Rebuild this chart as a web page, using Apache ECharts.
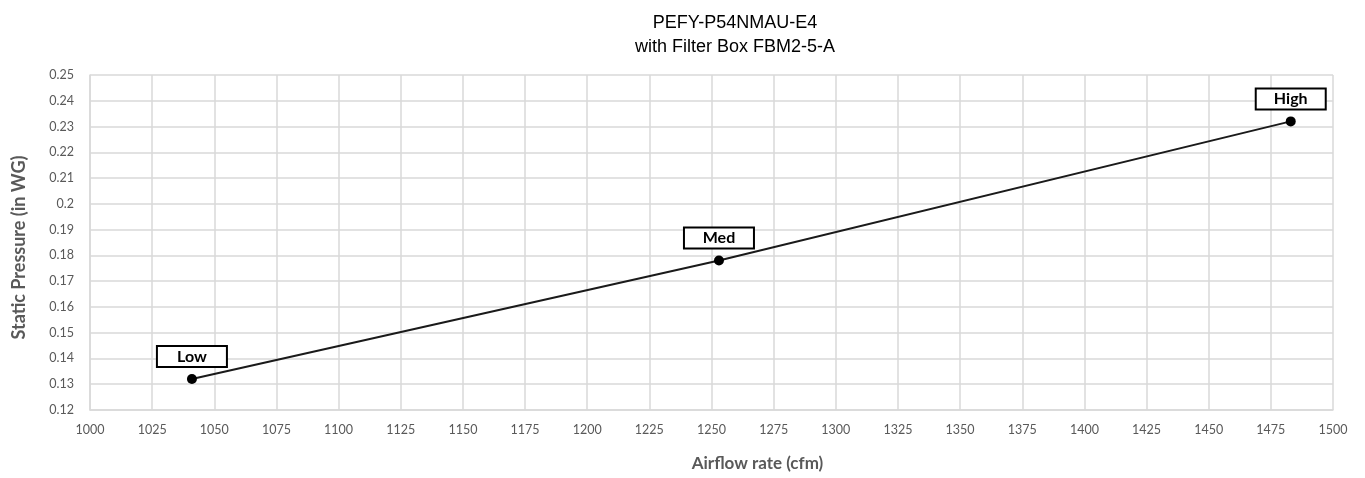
<!DOCTYPE html>
<html>
<head>
<meta charset="utf-8">
<script src="https://cdn.jsdelivr.net/npm/echarts@6/dist/echarts.min.js"></script>
<style>html,body{margin:0;padding:0;background:#fff}#c{width:1365px;height:478px}</style>
</head>
<body>
<div id="c"></div>
<script>
const titleLines = ['PEFY-P54NMAU-E4', 'with Filter Box FBM2-5-A'];
const airflow = [1041, 1253, 1483];
const pressure = [0.132, 0.178, 0.232];
const speedLabels = ['Low', 'Med', 'High'];
const xName = 'Airflow rate (cfm)';
const yName = 'Static Pressure (in WG)';

const chart = echarts.init(document.getElementById('c'));
const gridColor = '#d9d9d9';
const labelFont = 'Lato, "Open Sans", sans-serif';
chart.setOption({
  animation: false,
  title: {
    text: titleLines.join('\n'),
    left: 730, top: 6, textAlign: 'center',
    textStyle: { fontFamily: '"Liberation Sans", Arial, sans-serif', fontSize: 18, fontWeight: 'normal', color: '#000', lineHeight: 24 }
  },
  grid: { left: 90, right: 32, top: 75, bottom: 68 },
  xAxis: {
    type: 'value', min: 1000, max: 1500, interval: 25,
    name: xName, nameLocation: 'middle', nameGap: 45,
    nameTextStyle: { fontFamily: labelFont, fontSize: 17, fontWeight: 'bold', color: '#595959', padding: [0, 0, 0, 92] },
    axisLine: { show: true, lineStyle: { color: gridColor, width: 1.5 } },
    axisTick: { show: false },
    axisLabel: { fontFamily: labelFont, fontSize: 12.5, color: '#595959', margin: 13, formatter: v => String(v) },
    splitLine: { show: true, lineStyle: { color: gridColor, width: 1.5 } }
  },
  yAxis: {
    type: 'value', min: 0.12, max: 0.25, interval: 0.01,
    name: yName, nameLocation: 'middle', nameGap: 62, nameRotate: 90,
    nameTextStyle: { fontFamily: labelFont, fontSize: 18, fontWeight: 'bold', color: '#595959', padding: [0, 10, 0, 0] },
    axisLine: { show: true, lineStyle: { color: gridColor, width: 1.5 } },
    axisTick: { show: false },
    axisLabel: { fontFamily: labelFont, fontSize: 12.5, color: '#595959', margin: 16,
      formatter: v => String(+v.toFixed(2)) },
    splitLine: { show: true, lineStyle: { color: gridColor, width: 1.5 } }
  },
  series: [{
    type: 'line',
    data: airflow.map((x, i) => [x, pressure[i]]),
    symbol: 'circle', symbolSize: 10,
    itemStyle: { color: '#000' },
    lineStyle: { color: '#1a1a1a', width: 2 },
    label: {
      show: true, position: 'top', distance: 8,
      formatter: p => speedLabels[p.dataIndex],
      fontFamily: labelFont, fontSize: 16, fontWeight: 'bold', color: '#000',
      backgroundColor: '#fff', borderColor: '#000', borderWidth: 2,
      width: 64, height: 15, lineHeight: 15, align: 'center', padding: [2, 2]
    }
  }]
});
</script>
</body>
</html>
